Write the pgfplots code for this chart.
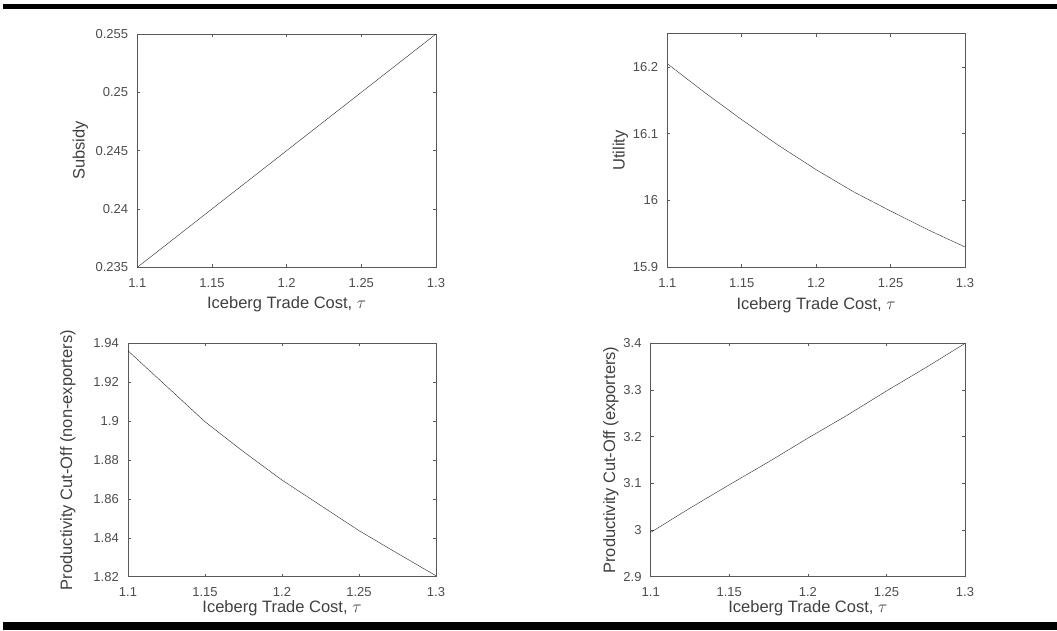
\documentclass[border=0pt]{standalone}
\usepackage{fontspec}
\setmainfont{Liberation Sans}
\usepackage{pgfplots}
\pgfplotsset{compat=1.18}
\begin{document}
\begin{tikzpicture}
\useasboundingbox (0pt,0pt) rectangle (1057pt,630pt);
\fill[black] (3pt,621pt) rectangle (1057pt,626pt);
\fill[black] (3pt,0pt) rectangle (1057pt,8pt);
\pgfplotsset{myax/.style={
  scale only axis, height=233.3pt, anchor=south west,
  xmin=1.1, xmax=1.3,
  xtick={1.1,1.15,1.2,1.25,1.3}, xticklabels={1.1,1.15,1.2,1.25,1.3},
  axis line style={black!65, line width=0.7pt},
  major tick style={black!65, line width=0.6pt},
  major tick length=3pt, tick align=inside,
  /pgf/number format/assume math mode=true,
  ticklabel style={font=\fontsize{13}{15}\selectfont, text=black!70, inner sep=0pt},
  yticklabel shift=9pt, xticklabel shift=11pt,
  label style={font=\fontsize{16.5}{19}\selectfont, text=black!75},
  scaled ticks=false,
  xlabel={Iceberg Trade Cost, $\tau$},
  cycle list={{black!85, line width=1pt, mark=none}},
}}
% top left
\begin{axis}[myax, at={(137.3pt,362.7pt)}, width=298.7pt,
  ymin=0.235, ymax=0.255,
  ytick={0.235,0.24,0.245,0.25,0.255}, yticklabels={0.235,0.24,0.245,0.25,0.255},
  ylabel={Subsidy},
  ylabel style={at={(axis description cs:-0.191,0.5)}, anchor=center},
  xlabel style={at={(axis description cs:0.5,-0.158)}, anchor=center}]
\addplot coordinates {(1.1,0.235) (1.15,0.24) (1.2,0.245) (1.25,0.25) (1.3,0.255)};
\end{axis}
% top right
\begin{axis}[myax, at={(667.3pt,363pt)}, width=297.7pt,
  ymin=15.9, ymax=16.25,
  ytick={15.9,16,16.1,16.2}, yticklabels={15.9,16,16.1,16.2},
  ylabel={Utility},
  ylabel style={at={(axis description cs:-0.158,0.5)}, anchor=center},
  xlabel style={at={(axis description cs:0.5,-0.165)}, anchor=center}]
\addplot coordinates {(1.1,16.205) (1.125,16.162) (1.15,16.121) (1.175,16.082) (1.2,16.046) (1.225,16.013) (1.25,15.984) (1.275,15.956) (1.3,15.93)};
\end{axis}
% bottom left
\begin{axis}[myax, at={(128pt,53.3pt)}, width=308pt,
  ymin=1.82, ymax=1.94,
  ytick={1.82,1.84,1.86,1.88,1.9,1.92,1.94}, yticklabels={1.82,1.84,1.86,1.88,1.9,1.92,1.94},
  ylabel={Productivity Cut-Off (non-exporters)},
  ylabel style={at={(axis description cs:-0.195,0.5)}, anchor=center},
  xlabel style={at={(axis description cs:0.5,-0.137)}, anchor=center}]
\addplot coordinates {(1.1,1.9362) (1.125,1.918) (1.15,1.8997) (1.175,1.8843) (1.2,1.8697) (1.225,1.8567) (1.25,1.8437) (1.275,1.832) (1.3,1.8205)};
\end{axis}
% bottom right
\begin{axis}[myax, at={(650.7pt,53.3pt)}, width=314.3pt,
  ymin=2.9, ymax=3.4,
  ytick={2.9,3,3.1,3.2,3.3,3.4}, yticklabels={2.9,3,3.1,3.2,3.3,3.4},
  ylabel={Productivity Cut-Off (exporters)},
  ylabel style={at={(axis description cs:-0.127,0.5)}, anchor=center},
  xlabel style={at={(axis description cs:0.5,-0.137)}, anchor=center}]
\addplot coordinates {(1.1,2.995) (1.125,3.047) (1.15,3.097) (1.175,3.146) (1.2,3.197) (1.225,3.246) (1.25,3.298) (1.275,3.348) (1.3,3.4)};
\end{axis}
\end{tikzpicture}
\end{document}
